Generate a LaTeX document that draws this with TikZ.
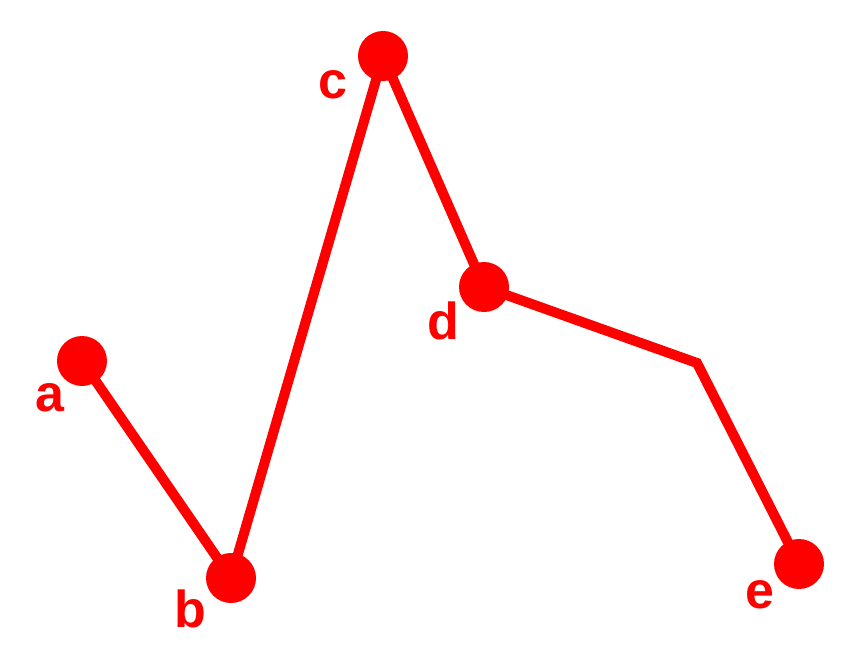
\documentclass[tikz,border=0pt]{standalone}
\usepackage{fontspec}
\setmainfont{Liberation Sans}
\definecolor{pred}{RGB}{255,0,0}
\begin{document}
\begin{tikzpicture}[x=1pt,y=-1pt,
  dot/.style={circle,fill=pred,inner sep=0pt,minimum size=50pt},
  lbl/.style={anchor=base,inner sep=0pt,text=pred,font=\fontsize{52}{52}\selectfont\bfseries},
  edge/.style={draw=pred,line width=10pt}]
\useasboundingbox (0,0) rectangle (861,668);
\coordinate (a) at (82,361);
\coordinate (b) at (231,578);
\coordinate (c) at (383,56);
\coordinate (d) at (484,287);
\coordinate (k) at (697,363);
\coordinate (e) at (799,564);
\draw[edge] (a) -- (b) -- (c) -- (d) -- (k) -- (e);
\foreach \p in {a,b,c,d,e} \node[dot] (n\p) at (\p) {};
\node[lbl] (la) at (50,411) {a};
\node[lbl] (lb) at (190,627) {b};
\node[lbl] (lc) at (333,99) {c};
\node[lbl] (ld) at (443,339) {d};
\node[lbl] (le) at (760,608) {e};
\end{tikzpicture}
\end{document}
